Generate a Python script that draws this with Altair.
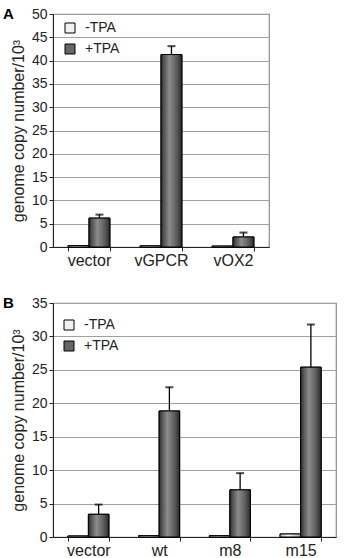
import altair as alt
import pandas as pd

# Panel A: vector, vGPCR, vOX2
cats_a = ["vector", "vGPCR", "vOX2"]
minus_a = [0.3, 0.25, 0.2]
plus_a = [6.2, 41.3, 2.15]
err_a = [0.75, 1.8, 0.95]

# Panel B: vector, wt, m8, m15
cats_b = ["vector", "wt", "m8", "m15"]
minus_b = [0.15, 0.2, 0.2, 0.45]
plus_b = [3.4, 18.85, 7.05, 25.4]
err_b = [1.45, 3.55, 2.5, 6.4]

series = ["-TPA", "+TPA"]
y_title = "genome copy number/10³"
FONT = "Liberation Sans"


def frame(cats, minus, plus, err):
    rows = []
    for c, m, p, e in zip(cats, minus, plus, err):
        rows.append({"cat": c, "series": "-TPA", "value": m, "top": m})
        rows.append({"cat": c, "series": "+TPA", "value": p, "top": p + e})
    return pd.DataFrame(rows)


def shade(stops):
    return alt.Gradient(
        gradient="linear", x1=0, x2=1, y1=0, y2=0,
        stops=[alt.GradientStop(offset=o, color=c) for o, c in stops],
    )


dark_fill = shade([(0, "#2a2a2a"), (0.12, "#4e4e4e"), (0.4, "#8c8c8c"),
                   (0.75, "#5c5c5c"), (1, "#2a2a2a")])
light_fill = shade([(0, "#b0b0b0"), (0.4, "#fafafa"), (1, "#a8a8a8")])


def panel(cats, minus, plus, err, ymax, width, height, letter, leg_x, leg_y):
    df = frame(cats, minus, plus, err)
    ticks = list(range(0, ymax + 1, 5))
    x = alt.X(
        "cat:N", sort=cats, title=None,
        scale=alt.Scale(paddingInner=0.42, paddingOuter=0.21),
        axis=alt.Axis(labelAngle=0, labelFontSize=16, labelColor="#222",
                      tickBand="extent", tickSize=4, labelPadding=1,
                      domainColor="#222", tickColor="#222"),
    )
    xo = alt.XOffset("series:N", sort=series,
                     scale=alt.Scale(domain=series, paddingInner=0, paddingOuter=0))
    y = alt.Y(
        "value:Q", scale=alt.Scale(domain=[0, ymax], nice=False),
        axis=alt.Axis(values=ticks, tickCount=len(ticks), labelOverlap=False,
                      title=y_title, titleFontSize=16, titleFontWeight="normal",
                      titleColor="#222", titlePadding=5, labelFontSize=14,
                      labelColor="#222", tickSize=4, grid=True,
                      gridColor="#a0a0a0", gridWidth=1.2,
                      domainColor="#222", tickColor="#222"),
    )
    base = alt.Chart(df)
    flat = base.mark_bar(stroke="black", strokeWidth=1).encode(
        x=x, xOffset=xo, y=y,
        color=alt.Color(
            "series:N", sort=series,
            scale=alt.Scale(domain=series, range=["#f2f2f2", "#666666"]),
            legend=alt.Legend(orient="none", legendX=leg_x, legendY=leg_y,
                              title=None, symbolType="square", symbolSize=100,
                              symbolStrokeColor="black", symbolStrokeWidth=1,
                              labelFontSize=14, labelColor="#222",
                              labelOffset=8, rowPadding=7, padding=0),
        ),
    )
    minus_bars = base.transform_filter(alt.datum.series == "-TPA").mark_bar(
        fill=light_fill, stroke="black", strokeWidth=1
    ).encode(x=x, xOffset=xo, y=y)
    plus_bars = base.transform_filter(alt.datum.series == "+TPA").mark_bar(
        fill=dark_fill, stroke="black", strokeWidth=1
    ).encode(x=x, xOffset=xo, y=y)
    stem = base.transform_filter(alt.datum.series == "+TPA").mark_rule(
        color="black", strokeWidth=1.3
    ).encode(x=x, xOffset=xo, y="value:Q", y2="top:Q")
    cap = base.transform_filter(alt.datum.series == "+TPA").mark_tick(
        orient="horizontal", size=8, thickness=2, color="black"
    ).encode(x=x, xOffset=xo, y="top:Q")
    tag = alt.Chart(pd.DataFrame({"t": [letter]})).mark_text(
        font=FONT, fontSize=15, fontWeight="bold", align="left",
        baseline="alphabetic", color="black"
    ).encode(text="t:N", x=alt.value(-50), y=alt.value(5))
    return alt.layer(flat, minus_bars, plus_bars, stem, cap, tag).properties(
        width=width, height=height
    )


top = panel(cats_a, minus_a, plus_a, err_a, 50, 216, 233, "A", 10, 7)
bottom = panel(cats_b, minus_b, plus_b, err_b, 35, 283, 234, "B", 9, 15)

chart = (
    alt.vconcat(top, bottom, spacing=26)
    .resolve_scale(color="independent", x="independent", y="independent",
                   xOffset="independent")
    .resolve_legend(color="independent")
    .properties(padding={"left": 2, "top": 6, "right": 0, "bottom": 0})
    .configure(font=FONT)
    .configure_view(stroke="#8a8a8a", strokeWidth=1.2)
)

chart.save("out.html", embed_options={"renderer": "svg", "actions": False})
